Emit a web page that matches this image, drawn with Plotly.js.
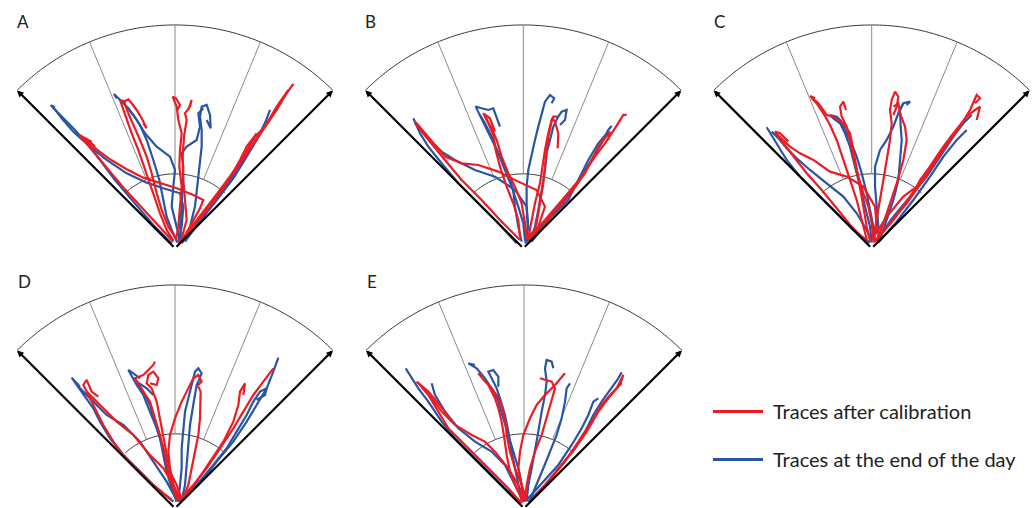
<!DOCTYPE html>
<html>
<head>
<meta charset="utf-8">
<script src="https://cdn.plot.ly/plotly-3.0.1.min.js"></script>
<style>html,body{margin:0;padding:0;background:#fff;}#chart{width:1034px;height:508px;}</style>
</head>
<body>
<div id="chart"></div>
<script>
// Trace coordinates: offsets from the start point (apex) in arena units;
// x = lateral (right positive), y = forward. Arena radius ≈ 670 units.
const panelLabels = ["A", "B", "C", "D", "E"];
const legendLabels = ["Traces after calibration", "Traces at the end of the day"];

const A_red = [
  [[-5,20],[-55,73],[-105,128],[-153,180],[-195,230],[-225,267],[-250,297],[-275,325],[-287,340],[-263,327],[-240,305],[-257,313]],
  [[23,25],[50,75],[75,120],[85,145],[55,160],[5,180],[-45,195],[-95,212],[-145,237],[-195,267],[-230,293],[-255,315],[-275,330],[-250,320]],
  [[5,27],[-20,65],[-40,115],[-55,165],[-70,225],[-85,275],[-105,325],[-125,370],[-140,405],[-153,440],[-140,447],[-130,435],[-115,415],[-100,390],[-85,360],[-95,375]],
  [[-5,23],[-25,55],[-45,105],[-65,165],[-85,225],[-110,295],[-130,345],[-147,395],[-157,427],[-165,445],[-147,440]],
  [[3,25],[10,65],[15,125],[20,185],[13,245],[15,295],[20,345],[10,385],[5,425],[-7,455],[3,450],[15,430],[7,415]],
  [[20,30],[35,85],[30,145],[25,205],[23,275],[27,335],[35,385],[30,405],[45,425],[50,445],[40,415]],
  [[15,20],[65,85],[120,155],[175,225],[220,290],[265,355],[305,415],[335,465],[355,493],[345,480]],
  [[23,27],[75,95],[135,175],[190,250],[225,310],[240,335],[270,365],[305,425],[340,475]],
  [[10,15],[55,65],[105,125],[155,195],[195,265],[215,305],[245,345],[235,325],[220,310]]
];
const A_blue = [
  [[-10,15],[-65,70],[-125,140],[-180,205],[-225,265],[-265,315],[-300,355],[-330,385],[-355,410],[-373,429],[-360,423]],
  [[10,20],[20,65],[25,125],[15,165],[-35,180],[-85,197],[-145,225],[-205,265],[-255,305],[-305,350],[-340,390],[-365,423]],
  [[15,23],[5,65],[-10,125],[-5,185],[0,235],[-15,275],[-55,305],[-90,345],[-115,385],[-140,420],[-165,445],[-183,463],[-175,450]],
  [[7,17],[-10,55],[-25,95],[-35,145],[-47,205],[-65,265],[-85,325],[-105,370],[-125,400],[-145,425]],
  [[25,25],[45,65],[60,125],[67,185],[73,245],[80,305],[80,355],[75,395],[80,425],[95,430],[105,400],[107,360],[95,385]],
  [[20,20],[15,65],[20,125],[23,185],[25,245],[20,285],[35,305],[65,325],[75,365],[70,405],[85,420]],
  [[20,15],[70,75],[125,145],[175,210],[215,275],[245,325],[270,375],[285,415]],
  [[30,20],[85,95],[140,165],[185,235],[225,295],[255,345],[275,385]]
];

const B_red = [
  [[-10,25],[-65,80],[-125,145],[-185,205],[-235,265],[-275,315],[-305,350],[-325,380],[-310,360]],
  [[10,30],[45,65],[65,125],[40,175],[-15,200],[-75,230],[-135,250],[-185,255],[-235,275],[-270,315],[-295,345],[-320,375]],
  [[10,27],[5,75],[-5,135],[-25,185],[-45,225],[-65,275],[-80,325],[-95,360],[-110,385],[-120,405],[-100,390],[-85,350]],
  [[-10,33],[-15,85],[-30,135],[-50,185],[-70,245],[-83,295],[-90,340],[-105,375],[-115,400]],
  [[25,25],[40,75],[50,135],[60,195],[65,245],[70,295],[75,335],[83,370],[87,390],[95,380],[105,345],[103,300]],
  [[15,30],[25,80],[35,135],[50,195],[57,245],[65,295],[75,345],[85,385],[90,395],[105,395]],
  [[10,25],[65,85],[125,155],[175,215],[215,275],[245,315],[275,360],[300,400],[310,400]],
  [[15,17],[75,85],[135,155],[185,225],[225,305],[245,330],[260,350],[255,325]]
];
const B_blue = [
  [[-20,15],[-75,75],[-135,135],[-195,195],[-245,255],[-285,305],[-310,345],[-330,390]],
  [[5,20],[15,65],[10,125],[-25,175],[-85,215],[-145,235],[-205,265],[-245,290],[-280,325],[-310,360],[-325,375]],
  [[-5,20],[-15,65],[-25,125],[-30,175],[-45,225],[-65,265],[-90,315],[-115,365],[-135,405],[-143,425],[-125,420],[-105,415],[-90,420],[-80,390],[-70,365]],
  [[5,25],[0,75],[-15,125],[-35,185],[-55,235],[-75,285],[-95,335],[-115,375],[-130,400]],
  [[10,20],[13,65],[10,125],[10,185],[15,235],[25,285],[35,325],[45,365],[55,405],[65,440],[80,460],[93,450],[85,435]],
  [[20,20],[35,65],[45,115],[55,175],[65,235],[70,285],[80,325],[90,365],[105,395],[115,410],[130,415],[125,385],[110,370]],
  [[5,15],[65,80],[115,135],[165,200],[205,265],[235,315],[255,355],[265,367]],
  [[25,20],[85,95],[135,145],[165,205],[195,265],[225,315],[255,350]]
];

const C_red = [
  [[-10,13],[-60,65],[-105,120],[-150,175],[-195,225],[-235,275],[-265,315],[-290,350],[-275,345],[-250,320]],
  [[5,23],[15,65],[10,125],[-25,185],[-75,215],[-125,230],[-175,265],[-215,285],[-245,305],[-270,330],[-290,347]],
  [[-5,23],[-15,65],[-25,125],[-35,185],[-45,245],[-55,295],[-65,345],[-85,375],[-115,395],[-135,400],[-160,435],[-185,457],[-170,450]],
  [[-15,27],[-30,85],[-45,145],[-65,205],[-85,265],[-105,325],[-125,370],[-145,405],[-165,435],[-180,450]],
  [[5,25],[0,75],[-10,125],[-25,165],[-40,215],[-55,275],[-65,325],[-75,365],[-90,395],[-95,425],[-85,440],[-77,415]],
  [[5,30],[15,85],[25,145],[35,205],[45,265],[55,325],[60,375],[55,415],[60,445],[70,470],[80,455],[75,425],[65,400]],
  [[15,23],[35,75],[55,135],[75,195],[95,265],[105,325],[100,365],[85,405],[80,435],[65,425]],
  [[5,17],[55,75],[105,135],[155,205],[195,265],[235,325],[265,365],[295,415],[315,460],[325,450],[310,435]],
  [[10,20],[65,85],[115,155],[155,215],[195,275],[245,345],[285,395],[310,415],[325,425],[315,385]],
  [[0,25],[45,95],[95,155],[135,185],[145,205],[175,245],[215,305],[245,345]]
];
const C_blue = [
  [[-5,17],[-55,55],[-105,105],[-165,165],[-215,215],[-255,265],[-285,315],[-310,355],[-315,363]],
  [[0,20],[-15,55],[-45,105],[-85,155],[-135,195],[-185,235],[-225,270],[-255,300],[-280,330],[-300,350]],
  [[0,17],[-5,65],[-20,125],[-35,185],[-50,245],[-65,305],[-80,345],[-95,375],[-115,390],[-125,400],[-105,395],[-90,380]],
  [[10,20],[5,65],[-5,115],[-15,165],[-30,225],[-45,275],[-65,325],[-85,365],[-100,385]],
  [[20,20],[20,65],[15,125],[10,185],[10,245],[25,295],[45,325],[65,365],[80,405],[95,435],[115,440],[105,430]],
  [[25,27],[45,85],[65,145],[80,205],[85,265],[90,325],[87,365],[85,415],[95,435]],
  [[15,25],[65,95],[115,155],[165,215],[205,275],[245,335],[275,375],[300,400]],
  [[20,17],[75,80],[125,145],[175,215],[215,275],[255,325],[285,355]]
];

const D_red = [
  [[-10,25],[-65,70],[-115,120],[-155,160],[-185,200],[-215,250],[-235,290],[-255,330],[-275,370],[-265,385],[-250,350],[-230,335]],
  [[15,30],[-5,70],[-35,120],[-75,160],[-125,220],[-175,260],[-215,300],[-245,330],[-265,350]],
  [[20,25],[5,70],[-15,110],[-25,160],[-35,220],[-45,270],[-55,320],[-70,360],[-85,375],[-80,400],[-65,410],[-50,390],[-55,370],[-75,375]],
  [[10,20],[-5,60],[-20,110],[-30,160],[-45,220],[-60,270],[-75,320],[-95,350],[-115,380],[-120,390],[-95,400],[-65,430],[-60,440]],
  [[5,25],[-5,70],[-15,120],[-20,170],[-15,220],[0,270],[20,320],[35,350],[45,370],[55,390],[70,400],[80,380],[65,365]],
  [[25,30],[40,70],[50,120],[60,170],[70,220],[75,270],[75,320],[77,350],[70,365]],
  [[25,25],[65,80],[105,140],[145,200],[175,260],[190,310],[195,350],[210,375],[205,340]],
  [[10,22],[55,70],[95,120],[135,180],[175,240],[205,290],[235,340],[265,380],[290,415],[295,420]]
];
const D_blue = [
  [[-5,20],[-55,60],[-105,110],[-155,160],[-195,210],[-225,260],[-245,300],[-275,340],[-295,370],[-310,392],[-285,365]],
  [[5,25],[-25,80],[-65,140],[-105,200],[-155,250],[-205,280],[-245,320],[-275,350],[-290,365]],
  [[15,20],[-5,70],[-25,120],[-35,180],[-55,240],[-75,290],[-95,340],[-115,370],[-140,415],[-125,405],[-105,390]],
  [[5,20],[-10,60],[-25,110],[-35,160],[-45,210],[-60,260],[-75,310],[-95,350],[-115,380],[-85,360],[-65,340]],
  [[10,20],[15,70],[20,120],[20,180],[25,240],[30,290],[40,330],[50,370],[60,410],[70,420],[80,405],[73,388]],
  [[20,22],[30,70],[35,130],[40,190],[45,250],[53,300],[60,340],[65,370],[75,390]],
  [[15,20],[65,70],[115,130],[155,180],[185,230],[215,280],[235,320],[255,350],[275,360],[270,340],[245,325]],
  [[20,22],[75,75],[125,140],[175,200],[215,260],[245,310],[275,360],[295,410],[310,452]]
];

const E_red = [
  [[-7,15],[-47,60],[-97,110],[-147,160],[-187,200],[-227,240],[-257,290],[-287,340],[-312,370],[-322,380],[-287,350],[-237,290],[-217,260]],
  [[3,25],[-17,70],[-47,120],[-87,170],[-117,200],[-157,220],[-207,250],[-247,290],[-277,330],[-307,365]],
  [[8,25],[-7,70],[-27,120],[-42,170],[-52,220],[-57,270],[-67,310],[-82,340],[-97,360],[-117,380],[-137,405],[-127,395]],
  [[-2,18],[-22,60],[-42,110],[-52,160],[-59,210],[-67,260],[-77,300],[-87,330],[-97,350],[-107,370]],
  [[3,22],[8,70],[18,120],[33,170],[53,220],[68,270],[78,310],[88,340],[93,360],[83,380],[63,385],[48,390]],
  [[-2,20],[-7,70],[-17,120],[-12,170],[-2,220],[18,270],[38,310],[63,340],[93,370],[113,395],[123,405]],
  [[18,20],[63,70],[108,125],[153,180],[188,230],[223,290],[253,330],[278,360],[298,400],[288,370]],
  [[23,25],[73,80],[123,140],[163,200],[203,260],[233,310],[263,345],[293,375]]
];
const E_blue = [
  [[-12,20],[-57,60],[-107,110],[-157,160],[-207,210],[-247,260],[-287,320],[-317,360],[-337,390],[-355,420]],
  [[-2,20],[-27,70],[-57,130],[-97,170],[-147,200],[-197,240],[-237,290],[-267,340],[-277,375]],
  [[3,20],[-7,70],[-17,120],[-32,170],[-47,220],[-62,270],[-77,320],[-97,360],[-117,390],[-142,420],[-167,435],[-147,430]],
  [[-7,22],[-17,70],[-27,120],[-37,170],[-47,230],[-57,280],[-72,330],[-82,360],[-97,390],[-107,410],[-92,415],[-77,395],[-77,365]],
  [[8,20],[13,70],[23,120],[33,170],[43,230],[53,290],[63,340],[68,380],[63,420],[68,445],[83,440],[88,420]],
  [[18,25],[38,70],[58,120],[78,170],[98,220],[113,270],[123,320],[128,360],[138,375]],
  [[13,20],[63,70],[113,130],[153,180],[183,230],[208,280],[233,320],[263,360],[283,390],[293,408]],
  [[8,25],[53,75],[103,130],[143,190],[173,240],[193,280],[208,320],[223,330]]
];

// ---------- layout ----------
const W = 1034, H = 508;
const RED = "#ec1c24", BLUE = "#2a55a5";
const FONT = "Lato, 'Liberation Sans', sans-serif";
const ARENA_R = 670;          // outer arc radius (arena units)
const INNER_R = ARENA_R / 3;  // inner arc radius
const UNITS_PER_PX = 3;

const panels = [
  {label: panelLabels[0], red: A_red, blue: A_blue, apex: [175, 248.3], lab: [15, 21]},
  {label: panelLabels[1], red: B_red, blue: B_blue, apex: [523.3, 248.3], lab: [363, 21]},
  {label: panelLabels[2], red: C_red, blue: C_blue, apex: [871.7, 248.3], lab: [712, 21]},
  {label: panelLabels[3], red: D_red, blue: D_blue, apex: [175, 508.3], lab: [16, 281]},
  {label: panelLabels[4], red: E_red, blue: E_blue, apex: [524, 508.3], lab: [365, 281]}
];

const data = [];
const layout = {
  width: W, height: H,
  margin: {l: 0, r: 0, t: 0, b: 0},
  paper_bgcolor: "#ffffff", plot_bgcolor: "rgba(0,0,0,0)",
  showlegend: false,
  shapes: [], annotations: []
};

function arcPath(r, a0, a1, n) {
  let s = "";
  for (let i = 0; i <= n; i++) {
    const a = (a0 + (a1 - a0) * i / n) * Math.PI / 180;
    s += (i ? " L " : "M ") + (r * Math.sin(a)).toFixed(2) + "," + (r * Math.cos(a)).toFixed(2);
  }
  return s;
}

panels.forEach((p, i) => {
  const xa = i === 0 ? "x" : "x" + (i + 1);
  const ya = i === 0 ? "y" : "y" + (i + 1);
  const xk = i === 0 ? "xaxis" : "xaxis" + (i + 1);
  const yk = i === 0 ? "yaxis" : "yaxis" + (i + 1);
  const [ax, ay] = p.apex;
  const bx0 = Math.max(0, ax - 172), bx1 = Math.min(W, ax + 172);
  const by0 = Math.max(0, ay - 246), by1 = Math.min(H, ay + 6);
  layout[xk] = {domain: [bx0 / W, bx1 / W], range: [(bx0 - ax) * UNITS_PER_PX, (bx1 - ax) * UNITS_PER_PX],
                visible: false, fixedrange: true, anchor: ya};
  layout[yk] = {domain: [1 - by1 / H, 1 - by0 / H], range: [(ay - by1) * UNITS_PER_PX, (ay - by0) * UNITS_PER_PX],
                visible: false, fixedrange: true, anchor: xa};

  // frame
  layout.shapes.push({type: "path", xref: xa, yref: ya, path: arcPath(ARENA_R, -45, 45, 90),
                      line: {color: "#3a3a3a", width: 1}, layer: "below"});
  layout.shapes.push({type: "path", xref: xa, yref: ya, path: arcPath(INNER_R, -42, 42, 60),
                      line: {color: "#3a3a3a", width: 1}, layer: "below"});
  [-22.5, 0, 22.5].forEach(d => {
    const a = d * Math.PI / 180;
    layout.shapes.push({type: "line", xref: xa, yref: ya,
      x0: INNER_R * Math.sin(a), y0: INNER_R * Math.cos(a),
      x1: ARENA_R * Math.sin(a), y1: ARENA_R * Math.cos(a),
      line: {color: "#8a8a8a", width: 1}, layer: "below"});
  });
  [-45, 45].forEach(d => {
    const a = d * Math.PI / 180;
    layout.annotations.push({xref: xa, yref: ya, axref: xa, ayref: ya,
      x: ARENA_R * Math.sin(a), y: ARENA_R * Math.cos(a), ax: 0, ay: 0,
      text: "", showarrow: true, arrowhead: 2, arrowsize: 0.6, arrowwidth: 2.2,
      arrowcolor: "#000", standoff: 0, startstandoff: 0});
  });

  // traces (blue first, red on top)
  const add = (arr, color, name) => arr.forEach(tr => {
    data.push({type: "scatter", mode: "lines", xaxis: xa, yaxis: ya,
      x: tr.map(pt => pt[0]), y: tr.map(pt => pt[1]),
      line: {color: color, width: 2.2}, name: name, hoverinfo: "skip", showlegend: false});
  });
  add(p.blue, BLUE, legendLabels[1]);
  add(p.red, RED, legendLabels[0]);

  layout.annotations.push({xref: "paper", yref: "paper", x: p.lab[0] / W, y: 1 - p.lab[1] / H,
    xanchor: "left", yanchor: "middle", text: p.label, showarrow: false,
    font: {family: FONT, size: 17, color: "#222"}});
});

// legend (drawn manually)
[[legendLabels[0], RED, 411.5], [legendLabels[1], BLUE, 459.5]].forEach(([txt, col, yy]) => {
  layout.shapes.push({type: "line", xref: "paper", yref: "paper",
    x0: 713 / W, x1: 763 / W, y0: 1 - yy / H, y1: 1 - yy / H, line: {color: col, width: 3}});
  layout.annotations.push({xref: "paper", yref: "paper", x: 771 / W, y: 1 - (yy - 1) / H,
    xanchor: "left", yanchor: "middle", text: txt, showarrow: false,
    font: {family: FONT, size: 20, color: "#222"}});
});

Plotly.newPlot("chart", data, layout, {staticPlot: true, displayModeBar: false});
</script>
</body>
</html>
